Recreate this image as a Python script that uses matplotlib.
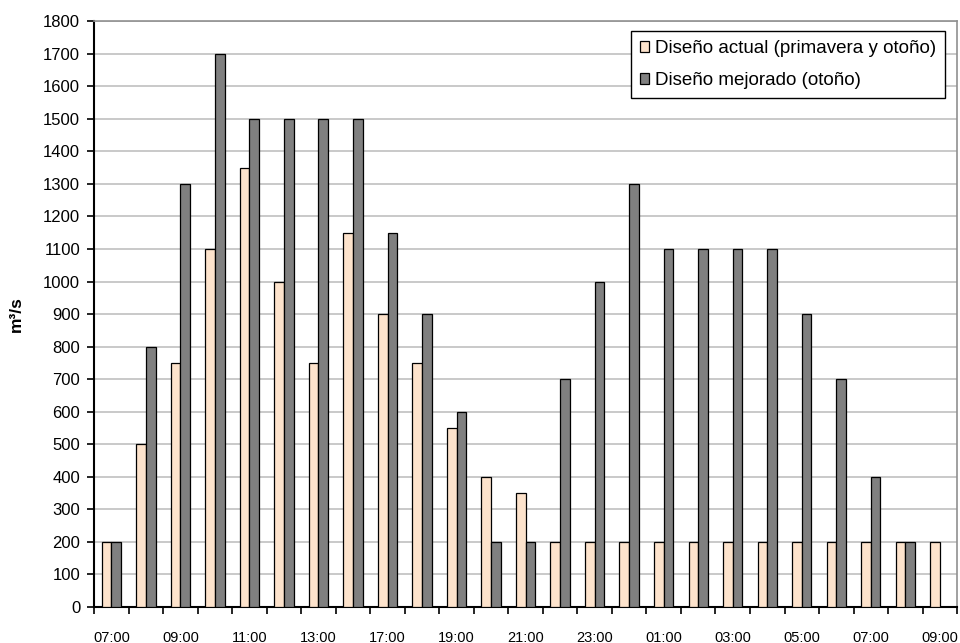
import numpy as np
import matplotlib.pyplot as plt
from matplotlib.ticker import MultipleLocator, FixedLocator

plt.rcParams['font.family'] = ['Liberation Sans', 'DejaVu Sans']

tick_labels = ['07:00', '09:00', '11:00', '13:00', '17:00', '19:00', '21:00',
               '23:00', '01:00', '03:00', '05:00', '07:00', '09:00']
actual = [200, 500, 750, 1100, 1350, 1000, 750, 1150, 900, 750, 550, 400, 350,
          200, 200, 200, 200, 200, 200, 200, 200, 200, 200, 200, 200]
mejorado = [200, 800, 1300, 1700, 1500, 1500, 1500, 1500, 1150, 900, 600, 200, 200,
            700, 1000, 1300, 1100, 1100, 1100, 1100, 900, 700, 400, 200, np.nan]

x = np.arange(len(actual))
w = 0.28

fig = plt.figure(figsize=(9.6, 6.43), dpi=100)
ax = fig.add_axes([0.098, 0.056, 0.899, 0.911])

ax.bar(x - w / 2, actual, w, color='#fde3cc', edgecolor='black', linewidth=0.9,
       label='Diseño actual (primavera y otoño)', zorder=3)
ax.bar(x + w / 2, mejorado, w, color='#808080', edgecolor='black', linewidth=0.9,
       label='Diseño mejorado (otoño)', zorder=3)

ax.set_xlim(-0.5, len(actual) - 0.5)
ax.set_ylim(0, 1800)
ax.yaxis.set_major_locator(MultipleLocator(100))
ax.grid(axis='y', color='#c0c0c0', linewidth=1.2, zorder=0)

ax.xaxis.set_major_locator(FixedLocator(x[::2]))
ax.set_xticklabels(tick_labels, fontsize=10.5)
ax.xaxis.set_minor_locator(FixedLocator(np.arange(-0.5, len(actual), 1)))
ax.tick_params(axis='x', which='major', length=0, pad=17)
ax.tick_params(axis='x', which='minor', length=5, width=1.2, color='black')
ax.tick_params(axis='y', length=5, width=1.2, labelsize=12, pad=5)

for s in ['left', 'bottom']:
    ax.spines[s].set_linewidth(1.5)
    ax.spines[s].set_color('black')
for s in ['top', 'right']:
    ax.spines[s].set_color('#909090')
    ax.spines[s].set_linewidth(1.2)

ax.set_ylabel('m³/s', fontsize=12.5, fontweight='bold', labelpad=14)

leg = ax.legend(loc='upper right', bbox_to_anchor=(0.9865, 0.984), fontsize=13.5,
                fancybox=False, framealpha=1, edgecolor='black',
                handlelength=0.5, handleheight=0.5, handletextpad=0.3,
                borderpad=0.5, labelspacing=0.8, borderaxespad=0)
leg.get_frame().set_linewidth(1.0)
leg.set_zorder(5)

fig.savefig('out.png', dpi=100)
